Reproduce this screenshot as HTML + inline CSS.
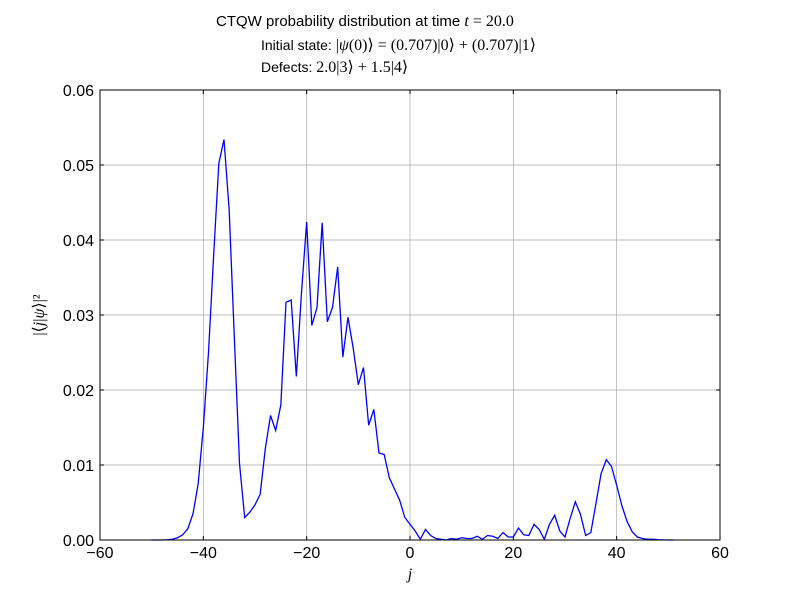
<!DOCTYPE html>
<html><head><meta charset="utf-8"><style>
body{margin:0;background:#fff;}
svg{display:block;font-family:"Liberation Sans","DejaVu Sans",sans-serif;}
.m{font-family:"Liberation Serif","DejaVu Serif",serif;font-size:16px;}
</style></head><body>
<svg id="chart" width="800" height="600" xmlns="http://www.w3.org/2000/svg">
<rect width="800" height="600" fill="#fff"/>
<g>
<text x="216" y="26" font-size="15">CTQW probability distribution at time <tspan class="m" font-style="italic">t</tspan><tspan class="m"> = 20.0</tspan></text>
<text x="261" y="50" font-size="14">Initial state: <tspan class="m">|<tspan font-style="italic">ψ</tspan>(0)⟩ = (0.707)|0⟩ + (0.707)|1⟩</tspan></text>
<text x="261" y="72" font-size="14">Defects: <tspan class="m">2.0|3⟩ + 1.5|4⟩</tspan></text>
</g>
<g id="grid"></g>
<g id="ticks"></g>
<path id="line" fill="none" stroke="#0000ff" stroke-width="1.3"/>
<rect x="100" y="90" width="620" height="450" fill="none" stroke="#000" stroke-width="1"/>
<text x="410" y="579" font-size="16" class="m" font-style="italic" text-anchor="middle">j</text>
<text transform="translate(44,315) rotate(-90)" font-size="16" class="m" text-anchor="middle">|⟨<tspan font-style="italic">j</tspan>|<tspan font-style="italic">ψ</tspan>⟩|²</text>
</svg>
<script>
const xTicks=[-60,-40,-20,0,20,40,60];
const yTicks=[0,0.01,0.02,0.03,0.04,0.05,0.06];
const jStart=-50;
const probs=[0,0,0,0.00003,0.0001,0.0003,0.0007,0.0015,0.0035,0.0075,0.015,0.025,0.038,0.0502,0.0534,0.044,0.027,0.0102,0.003,0.0037,0.0047,0.0061,0.0122,0.0166,0.0146,0.018,0.0317,0.032,0.0218,0.033,0.0424,0.0286,0.031,0.0423,0.0291,0.031,0.0364,0.0244,0.0297,0.0256,0.0207,0.023,0.0153,0.0174,0.0116,0.0114,0.0083,0.0068,0.0053,0.003,0.0021,0.0012,0.0001,0.0014,0.0006,0.0002,0.0001,0.0,0.0002,0.0001,0.0003,0.0002,0.0002,0.0005,0.0001,0.0006,0.0005,0.0002,0.001,0.0004,0.0004,0.0016,0.0007,0.0006,0.0021,0.0014,0.0001,0.0021,0.0033,0.0012,0.0004,0.0029,0.0051,0.0034,0.0006,0.001,0.0049,0.0089,0.0107,0.0098,0.0073,0.0046,0.0025,0.0011,0.0004,0.0002,0.0001,0.0001,0.00005,0.00002,0,0];
const X=v=>100+(v+60)/120*620, Y=v=>540-v/0.06*450;
const NS="http://www.w3.org/2000/svg";
const grid=document.getElementById('grid'), ticks=document.getElementById('ticks');
function mk(t,a,p){const e=document.createElementNS(NS,t);for(const k in a)e.setAttribute(k,a[k]);p.appendChild(e);return e;}
xTicks.forEach(v=>{const x=X(v);
 const g=mk('line',{x1:x,x2:x,y1:90,y2:540,stroke:'#a8a8a8','stroke-width':0.7},grid);
 
 
 mk('line',{x1:x,x2:x,y1:540,y2:536,stroke:'#000'},ticks);mk('line',{x1:x,x2:x,y1:90,y2:94,stroke:'#000'},ticks);
 const t=mk('text',{x:x,y:558,'font-size':16,'text-anchor':'middle'},ticks);t.textContent=v<0?'\u2212'+(-v):v;
 
 });
yTicks.forEach(v=>{const y=Y(v);
 const g=mk('line',{x1:100,x2:720,y1:y,y2:y,stroke:'#a8a8a8','stroke-width':0.7},grid);
 
 
 mk('line',{x1:100,x2:104,y1:y,y2:y,stroke:'#000'},ticks);mk('line',{x1:716,x2:720,y1:y,y2:y,stroke:'#000'},ticks);
 const t=mk('text',{x:94,y:y+6,'font-size':16,'text-anchor':'end'},ticks);t.textContent=v.toFixed(2);
 
 });
document.getElementById('line').setAttribute('d',probs.map((p,i)=>(i?'L':'M')+X(jStart+i).toFixed(2)+','+Y(p).toFixed(2)).join(''));
</script>
</body></html>
